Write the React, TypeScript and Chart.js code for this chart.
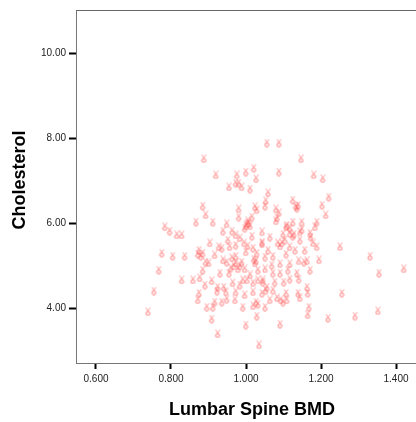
import { useEffect, useRef } from "react";
import { Chart, registerables } from "chart.js";

Chart.register(...registerables);

// Lumbar Spine BMD (x) and Cholesterol (y)
const bmd = [
  1.056, 1.088, 0.888, 1.147, 0.920, 0.976, 1.000, 1.021, 1.088, 1.027,
  1.181, 1.205, 0.955, 0.973, 0.981, 0.989, 1.011, 1.059, 1.221, 1.125,
  1.133, 1.136, 0.885, 0.893, 0.867, 0.912, 0.949, 0.981, 0.981, 1.024,
  1.029, 1.051, 1.053, 1.080, 1.088, 1.083, 1.080, 1.203, 1.213, 1.003,
  1.005, 1.011, 1.016, 0.997, 1.109, 1.107, 1.117, 1.125, 1.149, 1.149,
  1.189, 1.184, 0.784, 0.797, 0.816, 0.829, 0.939, 0.963, 0.973, 1.016,
  1.064, 1.099, 1.117, 1.125, 1.171, 1.173, 1.144,
  0.776, 0.805, 0.837, 0.875, 0.872, 0.885, 0.904, 0.928, 0.957, 0.973,
  0.995, 1.005, 1.019, 1.043, 0.893, 0.901, 0.885, 0.768, 0.829, 0.859,
  0.877, 0.939, 0.949, 0.931, 0.955, 0.973, 0.973, 0.989, 0.997, 0.979,
  1.021, 1.024, 1.029, 1.051, 0.909, 0.925, 0.923, 0.941, 0.965, 0.992,
  1.003, 1.019, 1.032, 1.045, 0.973, 1.019, 1.056, 0.755, 0.875, 0.872,
  1.043, 1.072, 1.107, 1.085, 1.096, 1.117, 1.179, 1.189, 1.251, 1.331,
  1.091, 1.117, 1.141, 1.163, 1.195, 1.051, 1.072, 1.091, 1.136, 1.141,
  1.117, 1.101, 1.355, 1.421, 1.077, 1.043, 1.072, 1.083, 1.099, 1.107,
  1.109, 1.139, 1.163, 1.165, 1.144, 1.256,
  0.917, 0.912, 0.936, 0.949, 0.896, 0.992, 1.027, 1.019, 1.051, 0.739,
  0.909, 1.029, 1.000, 0.925, 1.035, 1.168, 1.165, 1.219, 1.291, 1.352,
  1.091,
  1.008, 1.000, 0.963, 0.984, 0.968, 0.960, 0.880, 1.128, 1.091, 1.053,
  1.093, 1.139, 1.027, 1.032, 1.155, 1.045, 1.059, 1.069, 1.032, 1.011,
  0.984, 0.947, 0.891, 0.917, 0.936, 1.000, 1.112, 1.131, 1.157, 1.171,
  1.064, 0.997, 0.971, 1.104, 1.144, 1.043, 0.984, 0.952,
];

const cholesterol = [
  7.88, 7.88, 7.51, 7.51, 7.13, 7.13, 7.20, 7.29, 7.20, 7.04,
  7.13, 7.04, 6.85, 6.94, 6.94, 6.85, 6.80, 6.71, 6.61, 6.54,
  6.40, 6.35, 6.40, 6.19, 6.02, 6.02, 5.98, 6.33, 6.14, 6.38,
  6.31, 6.40, 6.52, 6.33, 6.24, 6.12, 6.05, 6.42, 6.19, 5.98,
  6.05, 5.93, 6.14, 5.88, 5.95, 5.91, 5.88, 6.02, 6.02, 5.84,
  6.02, 5.91, 5.91, 5.81, 5.72, 5.72, 5.81, 5.81, 5.72, 5.69,
  5.67, 5.74, 5.76, 5.69, 5.76, 5.67, 5.79,
  5.29, 5.22, 5.22, 5.36, 5.27, 5.29, 5.53, 5.44, 5.44, 5.48,
  5.53, 5.46, 5.41, 5.51, 5.08, 5.06, 4.89, 4.89, 4.66, 4.66,
  4.71, 5.13, 5.08, 4.82, 4.82, 5.22, 5.06, 5.08, 4.92, 4.92,
  5.15, 5.06, 5.29, 5.20, 4.64, 4.49, 4.40, 4.49, 4.59, 4.66,
  4.66, 4.59, 4.66, 4.66, 4.38, 4.38, 4.49, 4.40, 4.35, 4.19,
  5.55, 5.22, 5.27, 5.53, 5.53, 5.44, 5.53, 5.44, 5.44, 5.22,
  5.04, 5.04, 5.11, 5.11, 5.13, 4.92, 4.82, 4.82, 4.82, 4.68,
  4.68, 4.61, 4.82, 4.92, 4.61, 4.35, 4.42, 4.24, 4.14, 4.35,
  4.19, 4.35, 4.49, 4.35, 4.24, 4.35,
  4.14, 4.02, 4.14, 4.21, 4.02, 4.02, 4.14, 4.05, 4.02, 3.91,
  3.74, 3.81, 3.60, 3.39, 3.13, 4.02, 3.84, 3.76, 3.81, 3.93,
  3.62,
  6.00, 5.93, 5.18, 4.99, 4.99, 4.94, 5.22, 5.74, 5.46, 4.42,
  4.19, 6.42, 5.11, 4.09, 5.08, 4.61, 5.36, 5.01, 4.89, 4.78,
  4.54, 4.38, 4.54, 5.25, 5.41, 5.32, 4.89, 5.36, 5.36, 4.89,
  4.19, 4.31, 4.19, 5.60, 5.60, 5.79, 5.65, 5.60,
];

const xTickValues = [0.6, 0.8, 1.0, 1.2, 1.4];
const yTickValues = [4, 6, 8, 10];
const xTitle = "Lumbar Spine BMD";
const yTitle = "Cholesterol";

const FONT = "'Liberation Sans', Arial, Helvetica, sans-serif";

function makeGlyph(): HTMLCanvasElement {
  const c = document.createElement("canvas");
  c.width = 7;
  c.height = 9;
  const g = c.getContext("2d")!;
  g.strokeStyle = "rgba(255,85,85,0.6)";
  g.fillStyle = "rgba(255,120,120,0.18)";
  g.lineWidth = 1;
  g.beginPath();
  g.moveTo(1.5, 0.5);
  g.lineTo(3.3, 3.8);
  g.lineTo(5.5, 0.5);
  g.stroke();
  g.beginPath();
  g.ellipse(3.3, 6.2, 2.1, 2.0, 0, 0, Math.PI * 2);
  g.fill();
  g.stroke();
  return c;
}

export default function App() {
  const ref = useRef<HTMLCanvasElement | null>(null);

  useEffect(() => {
    if (!ref.current) return;
    const glyph = makeGlyph();
    const points = bmd.map((x, i) => ({ x, y: cholesterol[i] }));

    const frame = {
      id: "frame",
      afterDraw(chart: any) {
        const { ctx, chartArea } = chart;
        ctx.save();
        ctx.strokeStyle = "#666";
        ctx.lineWidth = 1;
        ctx.beginPath();
        ctx.moveTo(chartArea.left, chartArea.top + 0.5);
        ctx.lineTo(chartArea.right, chartArea.top + 0.5);
        ctx.stroke();
        // axis titles
        ctx.fillStyle = "#000";
        ctx.font = `bold 18px ${FONT}`;
        ctx.textAlign = "center";
        ctx.textBaseline = "middle";
        ctx.fillText(xTitle, chartArea.left + 176, 410);
        ctx.translate(20, chartArea.top + 170);
        ctx.rotate(-Math.PI / 2);
        ctx.fillText(yTitle, 0, 0);
        ctx.restore();
      },
    };

    const chart = new Chart(ref.current, {
      type: "scatter",
      data: {
        datasets: [
          {
            data: points,
            pointStyle: glyph as any,
            pointRadius: 4,
            pointHoverRadius: 4,
            clip: false as any,
          },
        ],
      },
      options: {
        responsive: false,
        animation: false,
        layout: { autoPadding: false, padding: { top: 10, right: 0, left: 0, bottom: 0 } },
        plugins: { legend: { display: false }, tooltip: { enabled: false } },
        scales: {
          x: {
            type: "linear",
            min: 0.5467,
            max: 1.4533,
            afterBuildTicks: (s: any) => {
              s.ticks = xTickValues.map((v) => ({ value: v }));
            },
            afterFit: (s: any) => {
              s.height = 59;
              s.paddingLeft = 0;
              s.paddingRight = 0;
            },
            ticks: {
              callback: (v: any) => Number(v).toFixed(3),
              font: { family: FONT, size: 10 },
              color: "#222",
              padding: 4,
              maxRotation: 0,
              autoSkip: false,
            },
            grid: {
              display: true,
              drawOnChartArea: false,
              drawTicks: true,
              tickLength: 6,
              tickWidth: 2,
              tickColor: "#000",
            },
            border: { display: true, color: "#777", width: 1 },
            title: { display: false },
          },
          y: {
            type: "linear",
            min: 2.706,
            max: 11.012,
            afterBuildTicks: (s: any) => {
              s.ticks = yTickValues.map((v) => ({ value: v }));
            },
            afterFit: (s: any) => {
              s.width = 76;
              s.paddingTop = 0;
              s.paddingBottom = 0;
            },
            ticks: {
              callback: (v: any) => Number(v).toFixed(2),
              font: { family: FONT, size: 10 },
              color: "#222",
              padding: 3,
              autoSkip: false,
            },
            grid: {
              display: true,
              drawOnChartArea: false,
              drawTicks: true,
              tickLength: 7,
              tickWidth: 2,
              tickColor: "#000",
            },
            border: { display: true, color: "#777", width: 1 },
            title: { display: false },
          },
        },
      },
      plugins: [frame],
    });

    return () => chart.destroy();
  }, []);

  return (
    <div style={{ position: "absolute", left: 0, top: 0, width: 416, height: 422, background: "#fff" }}>
      <canvas ref={ref} width={416} height={422} />
    </div>
  );
}
